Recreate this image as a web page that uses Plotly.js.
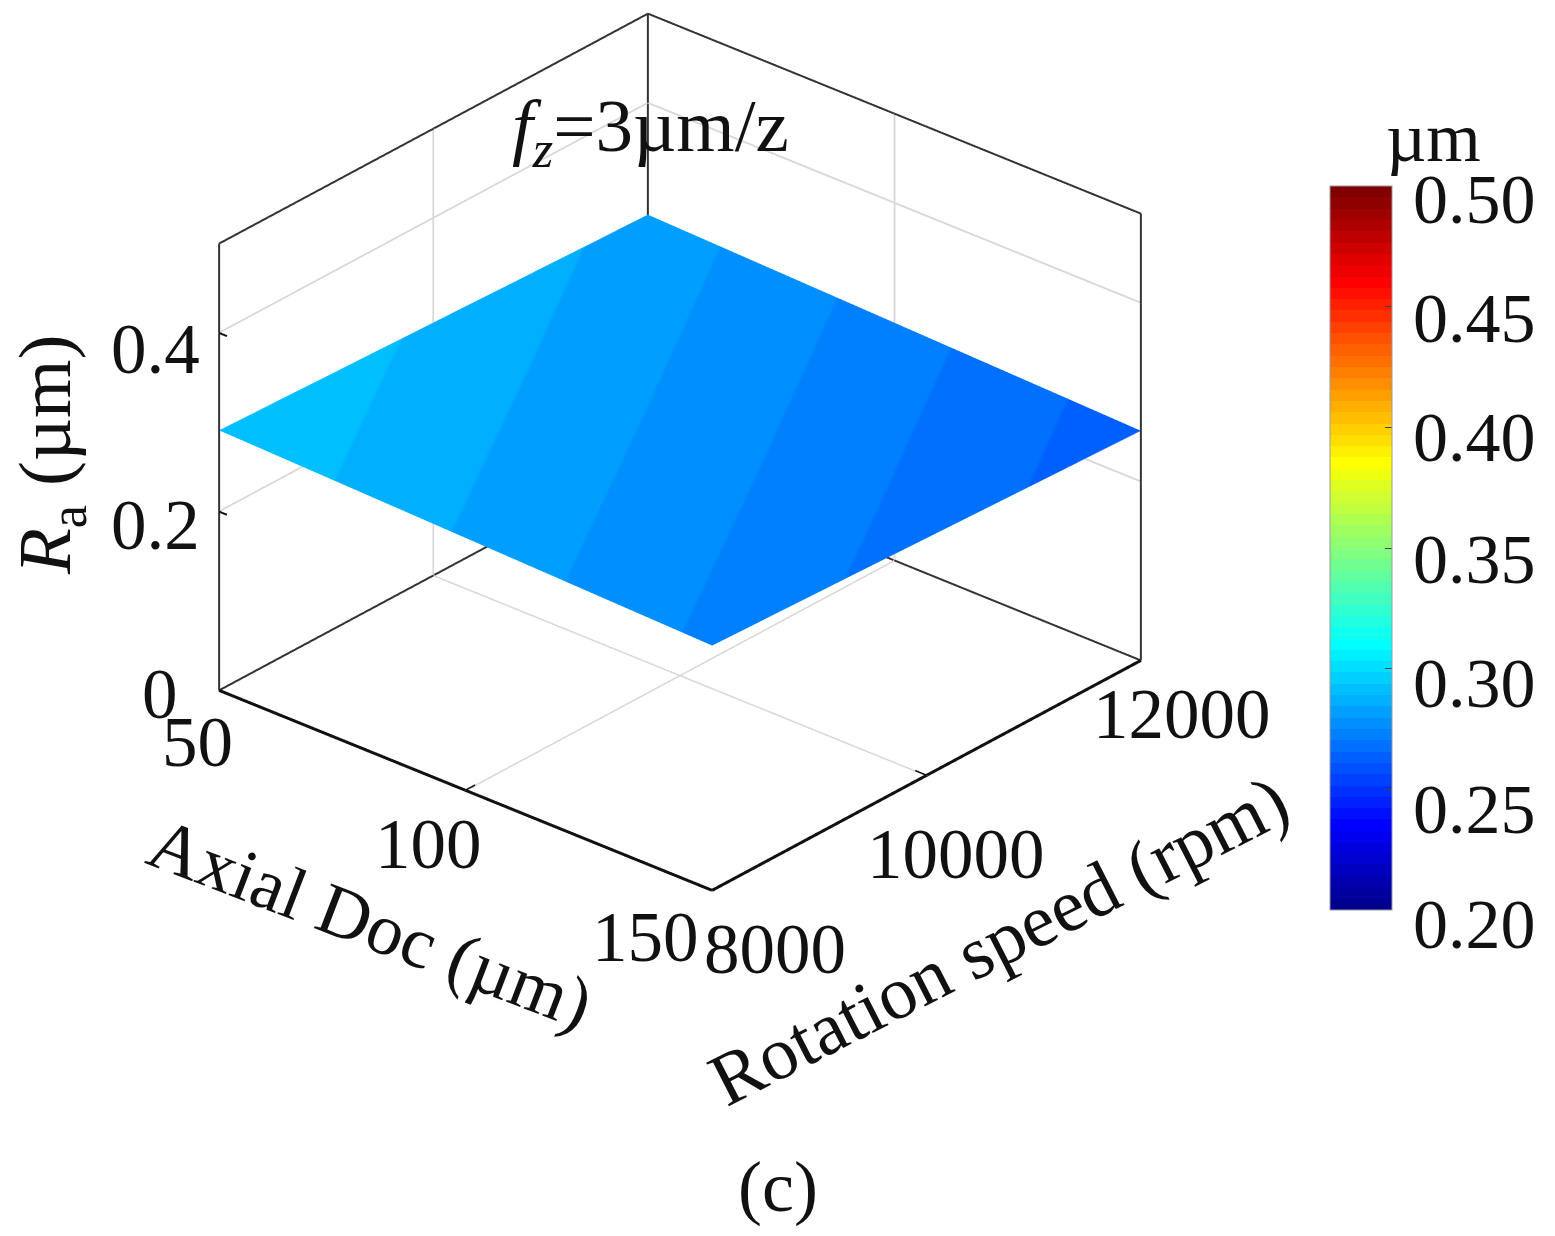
<!DOCTYPE html>
<html><head><meta charset="utf-8">
<script src="https://cdn.plot.ly/plotly-3.0.1.min.js"></script>
<style>html,body{margin:0;padding:0;background:#fff}</style></head>
<body><div id="chart" style="width:1555px;height:1236px"></div>
<script>
// ---- data ----
const axialDoc = [50, 100, 150];
const rotationSpeed = [8000, 10000, 12000];
const surfaceHeight = [
  [0.291, 0.2825, 0.274],
  [0.283, 0.2745, 0.2655],
  [0.275, 0.266, 0.257]
];
const surfaceColor = [
  [0.2937, 0.2837, 0.2737],
  [0.2882, 0.2782, 0.2682],
  [0.2826, 0.2726, 0.2626]
];
const zTicks = [0, 0.2, 0.4];
const zTickText = ['0', '0.2', '0.4'];
const xTickText = ['50', '100', '150'];
const yTickText = ['8000', '10000', '12000'];
const cbTicks = [0.20, 0.25, 0.30, 0.35, 0.40, 0.45, 0.50];
const cbTickText = ['0.20', '0.25', '0.30', '0.35', '0.40', '0.45', '0.50'];
const zRange = [0, 0.5];
const cRange = [0.2, 0.5];

// ---- styling ----
const W = 1555, H = 1236;
const SERIF = '"Liberation Serif", "Times New Roman", serif';
const INK = '#111';
const px = v => v / W, py = v => 1 - v / H;

const LEVELS = 64;
function jetStops(first, last) {
  const f = t => Math.max(0, Math.min(1, Math.min(4 * t - 1.5, -4 * t + 4.5)));
  const stops = [], span = last - first;
  for (let i = first; i < last; i++) {
    const t = (i + 1) / LEVELS;
    const c = `rgb(${Math.round(255 * f(t))},${Math.round(255 * f(t + 0.25))},${Math.round(255 * f(t + 0.5))})`;
    stops.push([(i - first) / span, c], [(i + 1 - first) / span, c]);
  }
  return stops;
}
// The surface only spans a few colour levels: restrict its scale to them so the bands stay crisp.
const bandFirst = 13, bandLast = 20;
const levelValue = i => cRange[0] + i / LEVELS * (cRange[1] - cRange[0]);

const xMin = axialDoc[0], xMax = axialDoc[2], yMin = rotationSpeed[0], yMax = rotationSpeed[2];
const zLo = zRange[0], zHi = zRange[1];
function edge(xs, ys, zs, color, width) {
  return {type: 'scatter3d', mode: 'lines', x: xs, y: ys, z: zs, showlegend: false, hoverinfo: 'skip',
          line: {color: color, width: width}};
}
const BACK = '#333', BACKW = 4, FRONT = '#111', FRONTW = 6, TICKW = 4;
const xTickLen = 2.3, yTickLen = 90, zTickLen = 1.6;
const lightOff = {ambient: 1, diffuse: 0, specular: 0, roughness: 1, fresnel: 0};
const traces = [
  {type: 'surface', x: axialDoc, y: rotationSpeed, z: surfaceHeight, surfacecolor: surfaceColor,
   cmin: levelValue(bandFirst), cmax: levelValue(bandLast), colorscale: jetStops(bandFirst, bandLast),
   showscale: false, lighting: lightOff, hoverinfo: 'skip'},
  // hidden copy that carries the full colour bar
  {type: 'surface', x: axialDoc, y: rotationSpeed, z: surfaceHeight, surfacecolor: surfaceColor, hidesurface: true,
   cmin: cRange[0], cmax: cRange[1], colorscale: jetStops(0, LEVELS), showscale: true, lighting: lightOff, hoverinfo: 'skip',
   colorbar: {thicknessmode: 'pixels', thickness: 62, lenmode: 'pixels', len: 724,
     x: px(1330), xanchor: 'left', y: py(910), yanchor: 'bottom', xpad: 0, ypad: 0,
     outlinecolor: '#9a9a9a', outlinewidth: 1, tickmode: 'array', tickvals: cbTicks.slice(1, -1),
     ticks: 'inside', ticklen: 7, tickcolor: '#444', tickwidth: 1, showticklabels: false}},
  // back edges of the box
  edge([xMin, xMin], [yMin, yMin], [zLo, zHi], BACK, BACKW),
  edge([xMin, xMin], [yMin, yMax], [zHi, zHi], BACK, BACKW),
  edge([xMin, xMax], [yMax, yMax], [zHi, zHi], BACK, BACKW),
  edge([xMax, xMax], [yMax, yMax], [zHi, zLo], BACK, BACKW),
  edge([xMin, xMin], [yMax, yMax], [zLo, zHi], BACK, BACKW),
  edge([xMin, xMin], [yMin, yMax], [zLo, zLo], BACK, BACKW),
  edge([xMin, xMax], [yMax, yMax], [zLo, zLo], BACK, BACKW),
  // front floor edges
  edge([xMin, xMax], [yMin, yMin], [zLo, zLo], FRONT, FRONTW),
  edge([xMax, xMax], [yMin, yMax], [zLo, zLo], FRONT, FRONTW),
  // tick marks
  edge([axialDoc[1], axialDoc[1]], [yMin, yMin + yTickLen], [zLo, zLo], FRONT, TICKW),
  edge([xMax, xMax - xTickLen], [rotationSpeed[1], rotationSpeed[1]], [zLo, zLo], FRONT, TICKW),
  edge([xMin, xMin + zTickLen], [yMin, yMin], [zTicks[1], zTicks[1]], FRONT, TICKW),
  edge([xMin, xMin + zTickLen], [yMin, yMin], [zTicks[2], zTicks[2]], FRONT, TICKW)
];

const axisBase = {showbackground: false, showspikes: false, zeroline: false, showticklabels: false,
  showline: false, gridcolor: '#d8d8d8', gridwidth: 4, ticks: '',
  title: {text: ''}, tickmode: 'array'};

function tickNote(x, y, z, text, dx, dy) {
  return {x: x, y: y, z: z, text: text, showarrow: false, xshift: dx, yshift: dy,
          xanchor: 'center', yanchor: 'middle', font: {family: SERIF, size: 71, color: INK}};
}
const xShift = [[-22, -52], [-37, -54], [-67, -47]];
const yShift = [[63, -59], [30, -79], [41, -54]];
const zShift = [[-59, -4], [-64, -13], [-64, -16]];
const sceneNotes = [];
axialDoc.forEach((v, i) => sceneNotes.push(tickNote(v, yMin, 0, xTickText[i], xShift[i][0], xShift[i][1])));
rotationSpeed.forEach((v, i) => sceneNotes.push(tickNote(xMax, v, 0, yTickText[i], yShift[i][0], yShift[i][1])));
zTicks.forEach((v, i) => sceneNotes.push(tickNote(xMin, yMin, v, zTickText[i], zShift[i][0], zShift[i][1])));

function note(x, y, text, size, angle) {
  return {xref: 'paper', yref: 'paper', x: px(x), y: py(y), text: text, showarrow: false,
          xanchor: 'center', yanchor: 'middle', textangle: angle || 0, font: {family: SERIF, size: size, color: INK}};
}
const barBottom = 910, barHeight = 724;
const labelDrop = [14, 20, 15, 11, 10, 12, 14];
const paperNotes = [
  note(650, 131, '<i>f</i><sub><i>z</i></sub>=3µm/z', 75),
  note(50, 455, '<i>R</i><sub>a</sub> (µm)', 75, -90),
  note(371, 923, 'Axial Doc (µm)', 73, 21),
  note(998, 940, 'Rotation speed (rpm)', 75, -27),
  note(778, 1187, '(c)', 72),
  note(1433, 138, 'µm', 70)
];
cbTicks.forEach((v, i) => {
  const y = barBottom - (v - cRange[0]) / (cRange[1] - cRange[0]) * barHeight + labelDrop[i];
  paperNotes.push(note(1474, y, cbTickText[i], 70));
});

const eyeDist = 6;
const boxScale = 1.447;
// A hair of slack on the ranges: lines lying exactly on the bounds get clipped away in WebGL.
const slack = 0.0005;
const pad = r => [r[0] - (r[1] - r[0]) * slack, r[1] + (r[1] - r[0]) * slack];
const layout = {
  width: W, height: H, margin: {l: 0, r: 0, t: 0, b: 0}, paper_bgcolor: '#fff', showlegend: false,
  font: {family: SERIF, color: INK},
  scene: {
    domain: {x: [0, 1360 / W], y: [1 - 904 / H, 1]},
    aspectmode: 'manual', aspectratio: {x: boxScale, y: boxScale, z: 0.773 * boxScale},
    camera: {projection: {type: 'orthographic'}, up: {x: 0, y: 0, z: 1}, center: {x: 0, y: 0, z: 0},
             eye: {x: 0.5805 * eyeDist, y: -0.6674 * eyeDist, z: 0.4664 * eyeDist}},
    xaxis: Object.assign({}, axisBase, {range: pad([xMin, xMax]), tickvals: [axialDoc[1]]}),
    yaxis: Object.assign({}, axisBase, {range: pad([yMin, yMax]), tickvals: [rotationSpeed[1]]}),
    zaxis: Object.assign({}, axisBase, {range: pad(zRange), tickvals: zTicks.slice(1)}),
    annotations: sceneNotes
  },
  annotations: paperNotes
};
Plotly.newPlot('chart', traces, layout, {displayModeBar: false, responsive: false});
</script></body></html>
